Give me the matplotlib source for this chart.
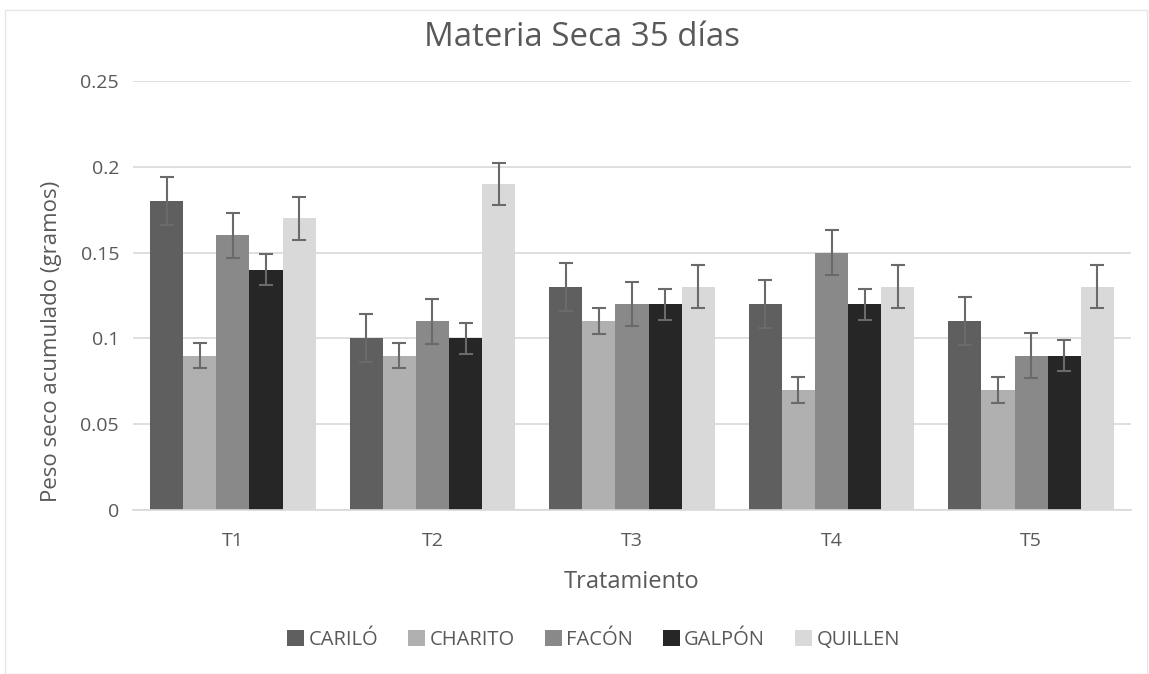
import matplotlib.pyplot as plt
from matplotlib.patches import Rectangle
import numpy as np

plt.rcParams['font.family'] = ['Open Sans', 'DejaVu Sans']

tratamientos = ['T1', 'T2', 'T3', 'T4', 'T5']
variedades = ['CARILÓ', 'CHARITO', 'FACÓN', 'GALPÓN', 'QUILLEN']

carilo = [0.18, 0.10, 0.13, 0.12, 0.11]
charito = [0.09, 0.09, 0.11, 0.07, 0.07]
facon = [0.16, 0.11, 0.12, 0.15, 0.09]
galpon = [0.14, 0.10, 0.12, 0.12, 0.09]
quillen = [0.17, 0.19, 0.13, 0.13, 0.13]

# error por variedad (igual en todos los tratamientos)
errores = [0.014, 0.0075, 0.013, 0.009, 0.0125]

colores = ['#5f5f5f', '#b0b0b0', '#898989', '#262626', '#d9d9d9']
series = [carilo, charito, facon, galpon, quillen]
gris = '#595959'

fig = plt.figure(figsize=(11.49, 6.74), dpi=100)
ax = fig.add_axes([133/1149, 1 - 510/674, (1131-133)/1149, (510-81)/674])

x = np.arange(len(tratamientos))
w = 0.166
for i, (vals, col, err) in enumerate(zip(series, colores, errores)):
    pos = x + (i - 2) * w
    ax.bar(pos, vals, w, color=col, label=variedades[i], zorder=2)
    ax.errorbar(pos, vals, yerr=err, fmt='none', ecolor='#6a6a6a',
                elinewidth=1.5, capsize=5, capthick=1.5, zorder=3)

ax.set_xlim(-0.5, 4.5)
ax.set_ylim(0, 0.25)
ax.set_yticks([0, 0.05, 0.1, 0.15, 0.2, 0.25])
ax.set_yticklabels(['0', '0.05', '0.1', '0.15', '0.2', '0.25'])
ax.set_xticks(x)
ax.set_xticklabels(tratamientos)
ax.yaxis.grid(True, color='#d9d9d9', lw=1.2, zorder=0)
ax.set_axisbelow(True)
for s in ['top', 'right', 'left']:
    ax.spines[s].set_visible(False)
ax.spines['bottom'].set_color('#d9d9d9')
ax.spines['bottom'].set_linewidth(1.2)
ax.tick_params(length=0, colors=gris, labelsize=14, pad=10)
ax.tick_params(axis='x', pad=15.5)

fig.text(52/1149, 1 - 341/674, 'Peso seco acumulado (gramos)', rotation=90,
         ha='center', va='center', fontsize=16, color=gris)
fig.text(632/1149, 1 - 582/674, 'Tratamiento', ha='center', va='center',
         fontsize=17, color=gris)
fig.text(581.5/1149, 1 - 37/674, 'Materia Seca 35 días', ha='center', va='center',
         fontsize=23.8, color=gris)

ax.legend(loc='center', bbox_to_anchor=((593.5-133)/998, (510-640)/429), ncol=5,
          frameon=False, fontsize=14.5, labelcolor=gris,
          handlelength=0.85, handleheight=0.85, handletextpad=0.2, columnspacing=1.5)

fig.patches.append(Rectangle((5/1149, 0), 1 - 5/1149 - 0.002, 1 - 9/674 - 0.002,
                             transform=fig.transFigure, fill=False,
                             edgecolor='#e6e6e6', lw=1))

fig.savefig('out.png', dpi=100)
